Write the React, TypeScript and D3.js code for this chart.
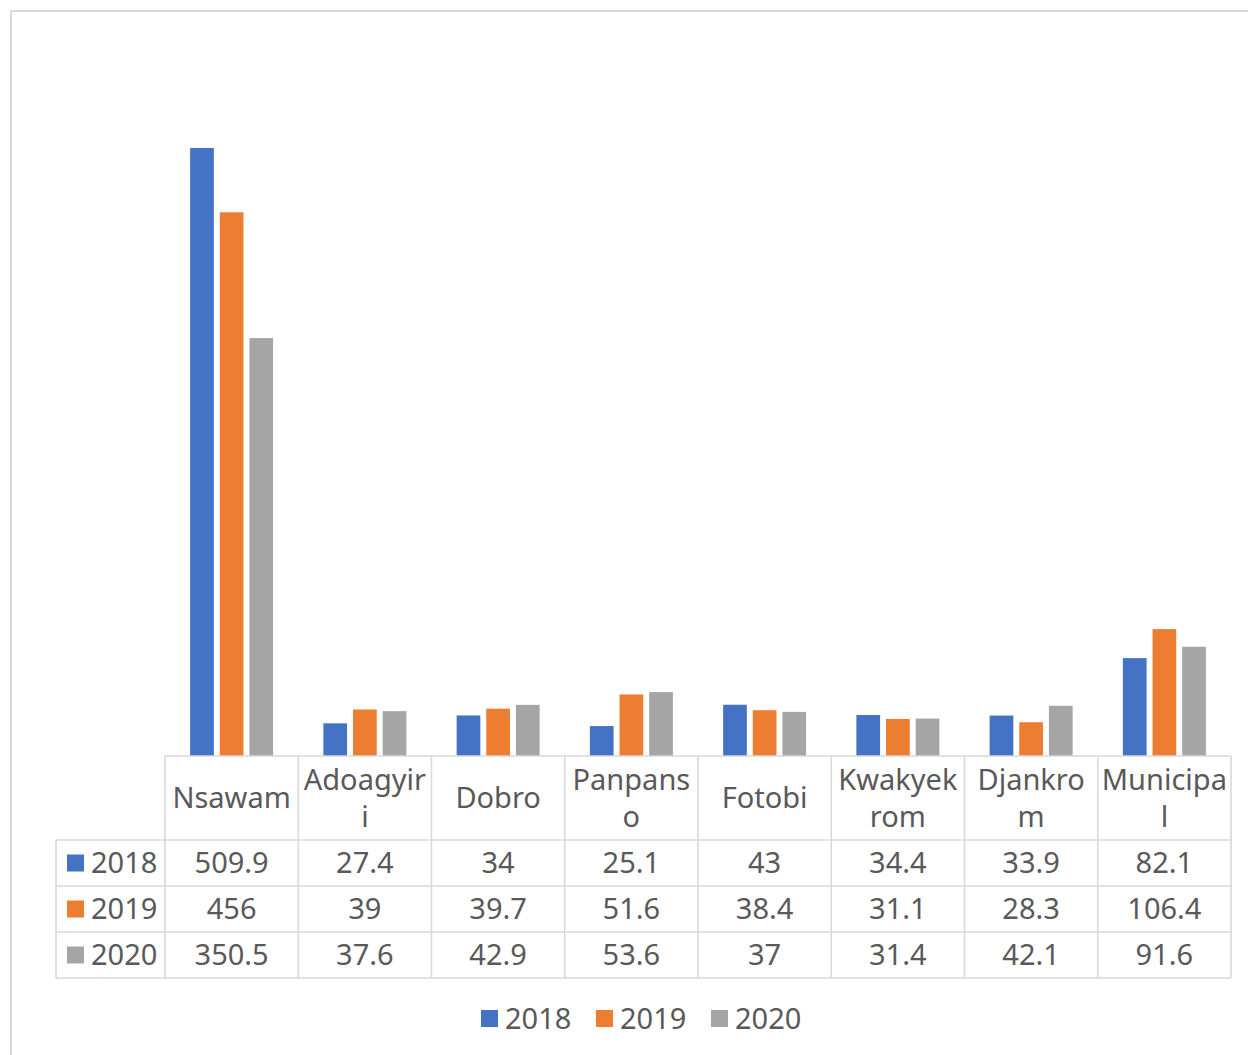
import React from "react";
import * as d3 from "d3";

const categories = ["Nsawam", "Adoagyiri", "Dobro", "Panpanso", "Fotobi", "Kwakyekrom", "Djankrom", "Municipal"];
const seriesNames = ["2018", "2019", "2020"];
const values2018 = [509.9, 27.4, 34, 25.1, 43, 34.4, 33.9, 82.1];
const values2019 = [456, 39, 39.7, 51.6, 38.4, 31.1, 28.3, 106.4];
const values2020 = [350.5, 37.6, 42.9, 53.6, 37, 31.4, 42.1, 91.6];
const colors = ["#4472c4", "#ed7d31", "#a5a5a5"];

const seriesValues = [values2018, values2019, values2020];

const FONT = "'Noto Sans', sans-serif";
const FS = 29;
const TEXT = "#595959";
const GRID = "#d9d9d9";

// break a label char by char when it gets wider than the cell
function wrapLabel(label: string, maxW: number): string[] {
  const ctx = document.createElement("canvas").getContext("2d");
  if (!ctx) return [label];
  ctx.font = `${FS}px ${FONT}`;
  const lines: string[] = [];
  let cur = "";
  for (const ch of label) {
    if (cur && ctx.measureText(cur + ch).width > maxW) {
      lines.push(cur);
      cur = ch;
    } else cur += ch;
  }
  if (cur) lines.push(cur);
  return lines;
}

export default function App() {
  const tableLeft = 165,
    tableRight = 1231,
    legendColLeft = 56;
  const baseline = 756,
    headerBottom = 840,
    rowH = 46;

  const x = d3.scaleBand().domain(categories).range([tableLeft, tableRight]);
  const y = d3.scaleLinear().domain([0, 600]).range([baseline, 40.6]);
  const colW = x.bandwidth();

  const x1 = d3.scaleBand().domain(seriesNames).range([-41.5, 41.5]).paddingInner(0.2);

  const rowTop = (i: number) => headerBottom + i * rowH;
  const tableBottom = rowTop(seriesNames.length);

  const legendX = [481, 596, 711];

  return (
    <svg
      width={1248}
      height={1055}
      style={{ position: "absolute", left: 0, top: 0, fontFamily: FONT }}
    >
      <rect x={0} y={0} width={1248} height={1055} fill="#fff" />
      <rect x={11} y={11} width={1260} height={1060} fill="#fff" stroke={GRID} strokeWidth={2} />

      {/* bars */}
      {categories.map((c, ci) => {
        const cx = (x(c) as number) + colW / 2;
        return (
          <g key={c}>
            {seriesNames.map((s, si) => {
              const v = seriesValues[si][ci];
              return (
                <rect
                  key={s}
                  x={cx + (x1(s) as number)}
                  y={y(v)}
                  width={x1.bandwidth()}
                  height={baseline - y(v)}
                  fill={colors[si]}
                />
              );
            })}
          </g>
        );
      })}

      {/* data table grid */}
      <g stroke={GRID} strokeWidth={1.6}>
        <line x1={tableLeft} x2={tableRight} y1={baseline} y2={baseline} />
        {seriesNames.map((s, i) => (
          <line key={s} x1={legendColLeft} x2={tableRight} y1={rowTop(i)} y2={rowTop(i)} />
        ))}
        <line x1={legendColLeft} x2={tableRight} y1={tableBottom} y2={tableBottom} />
        <line x1={legendColLeft} x2={legendColLeft} y1={headerBottom} y2={tableBottom} />
        {categories.map((c) => (
          <line key={c} x1={x(c)} x2={x(c)} y1={baseline} y2={tableBottom} />
        ))}
        <line x1={tableRight} x2={tableRight} y1={baseline} y2={tableBottom} />
      </g>

      {/* header labels */}
      {categories.map((c) => {
        const lines = wrapLabel(c, colW - 6);
        const cx = (x(c) as number) + colW / 2;
        const mid = (baseline + headerBottom) / 2;
        const lh = 37;
        const start = mid - ((lines.length - 1) * lh) / 2;
        return (
          <text key={c} textAnchor="middle" fill={TEXT} fontSize={FS}>
            {lines.map((l, li) => (
              <tspan key={li} x={cx} y={start + li * lh} dy="0.35em">
                {l}
              </tspan>
            ))}
          </text>
        );
      })}

      {/* value rows */}
      {seriesNames.map((s, si) => {
        const cy = rowTop(si) + rowH / 2;
        return (
          <g key={s}>
            <rect x={67} y={cy - 8.5} width={17} height={17} fill={colors[si]} />
            <text x={91} y={cy} dy="0.35em" fill={TEXT} fontSize={FS}>
              {s}
            </text>
            {categories.map((c, ci) => (
              <text
                key={c}
                x={(x(c) as number) + colW / 2}
                y={cy}
                dy="0.35em"
                textAnchor="middle"
                fill={TEXT}
                fontSize={FS}
              >
                {seriesValues[si][ci]}
              </text>
            ))}
          </g>
        );
      })}

      {/* legend */}
      {seriesNames.map((s, si) => (
        <g key={s}>
          <rect x={legendX[si]} y={1010} width={17} height={17} fill={colors[si]} />
          <text x={legendX[si] + 24} y={1018.5} dy="0.35em" fill={TEXT} fontSize={FS}>
            {s}
          </text>
        </g>
      ))}
    </svg>
  );
}
